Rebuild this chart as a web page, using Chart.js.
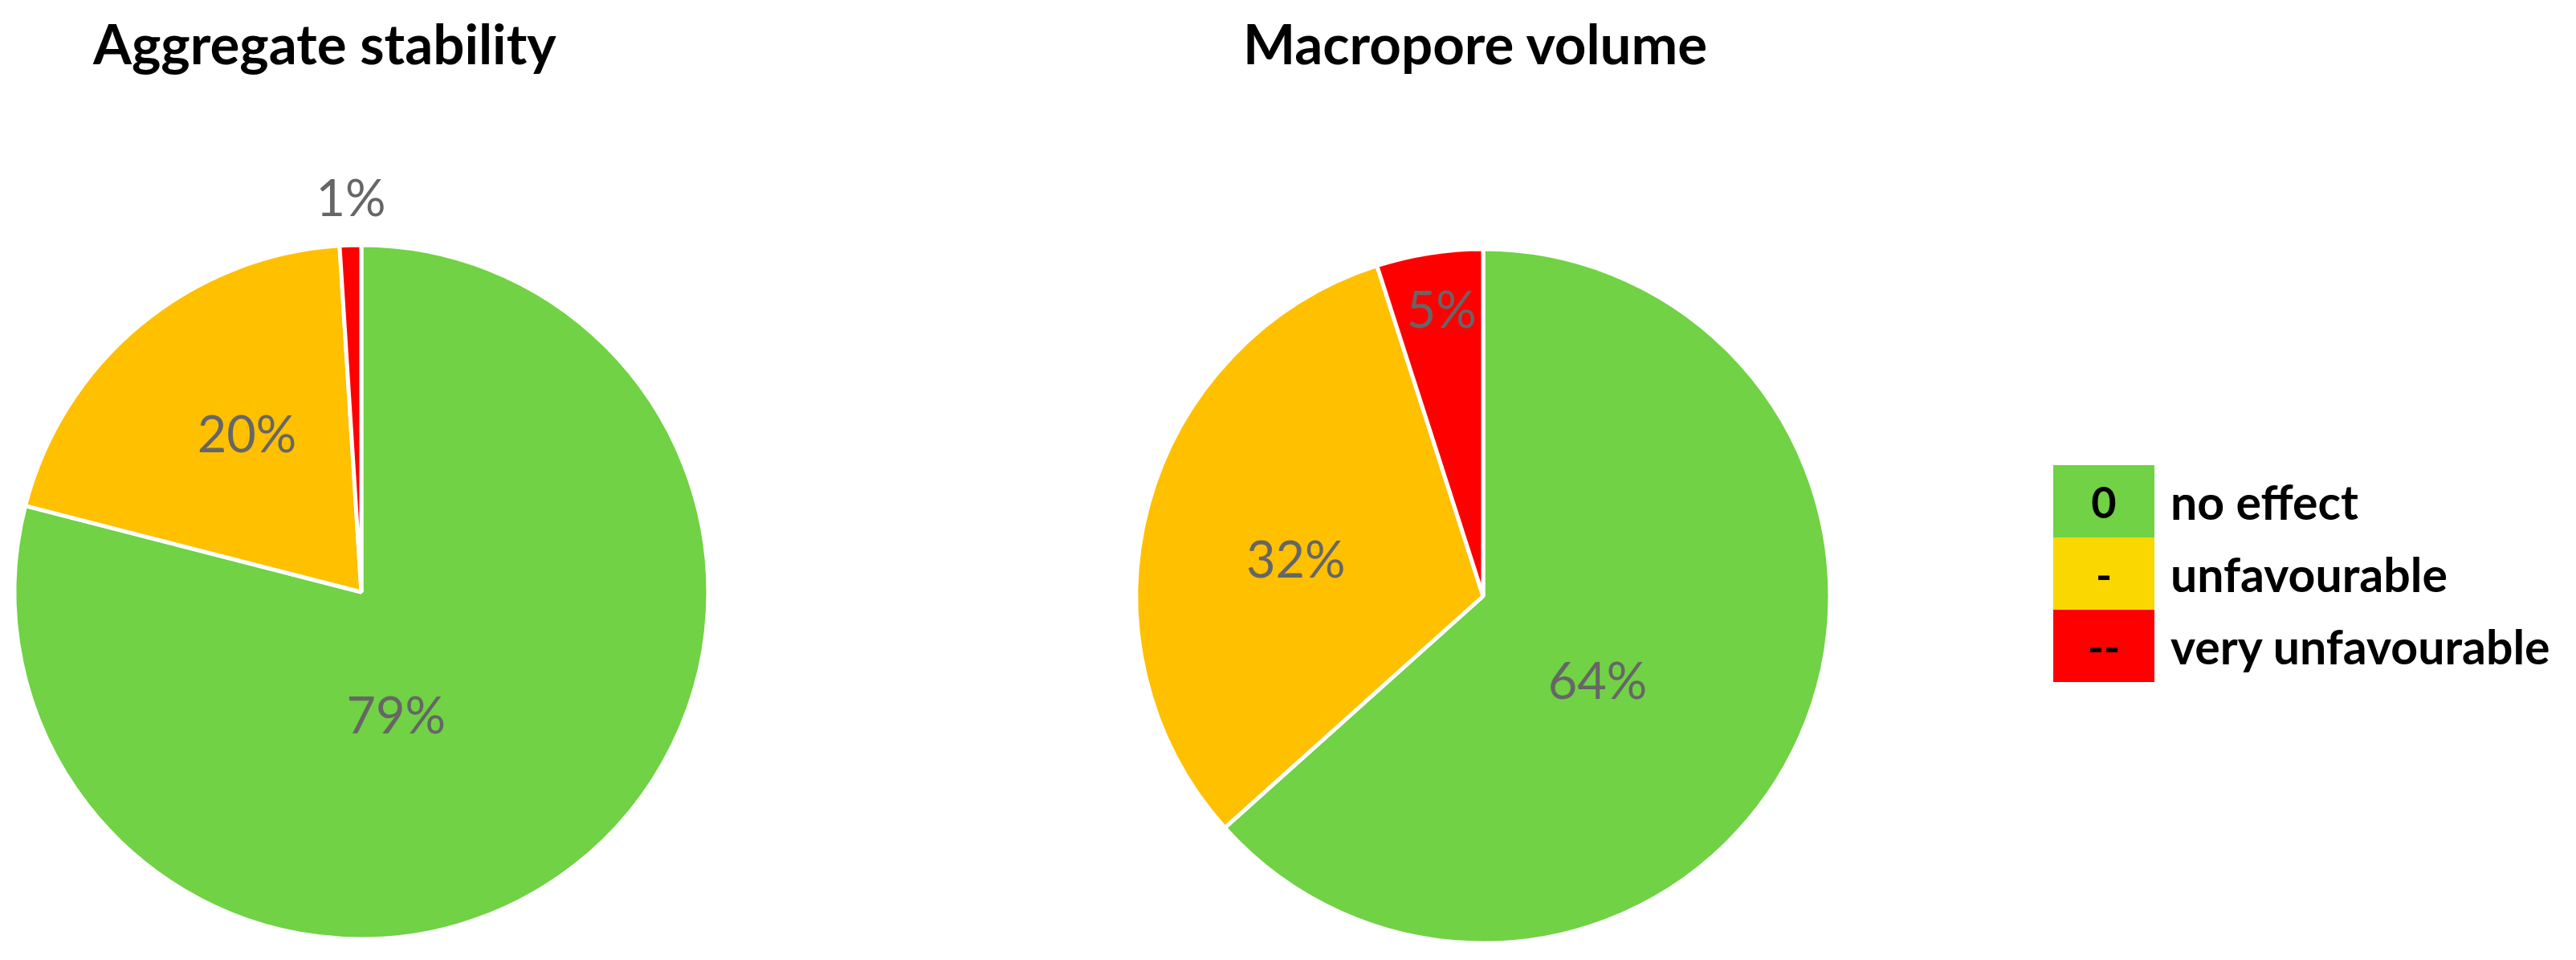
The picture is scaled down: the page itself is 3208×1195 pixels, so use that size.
<!DOCTYPE html>
<html lang="en">
<head>
  <meta charset="UTF-8">
  <title>Aggregate stability / Macropore volume</title>
  <script src="https://cdn.jsdelivr.net/npm/chart.js"></script>
  <style>
    html, body { margin: 0; padding: 0; background: #fff; overflow: hidden; }
    body { width: 3208px; height: 1195px; position: relative; font-family: Lato, "Open Sans", sans-serif; }
    .title { position: absolute; top: 12px; font-weight: bold; font-size: 69px; color: #000; white-space: nowrap; }
    canvas { position: absolute; }
    .legend { position: absolute; left: 2557px; top: 579px; }
    .row { display: flex; align-items: center; height: 90px; }
    .sw { width: 126px; height: 90px; display: flex; align-items: center; justify-content: center;
          font-weight: bold; font-size: 54px; color: #000; }
    .lab { margin-left: 20px; font-weight: bold; font-size: 59px; color: #000; white-space: nowrap; }
  </style>
</head>
<body>
  <div class="title" style="left:116px">Aggregate stability</div>
  <div class="title" style="left:1548px">Macropore volume</div>
  <canvas id="pieLeft"></canvas>
  <canvas id="pieRight"></canvas>
  <div class="legend" id="legend"></div>
  <script>
    // categories and values (percent)
    const categories = ['no effect', 'unfavourable', 'very unfavourable'];
    const symbols = ['0', '-', '--'];
    const aggregateStability = [79, 20, 1];
    const macroporeVolume = [64, 32, 5];

    const sliceColors = ['#70D244', '#FFC000', '#FF0000'];
    const legendColors = ['#70D244', '#FAD700', '#FF0000'];

    // label placement, in units of the pie radius from its centre
    const leftLabelPos = [[0.10, 0.36], [-0.33, -0.45], [-0.03, -1.13]];
    const rightLabelPos = [[0.33, 0.25], [-0.54, -0.10], [-0.12, -0.82]];

    const pctLabels = {
      id: 'pctLabels',
      afterDatasetsDraw(chart, args, opts) {
        const ctx = chart.ctx;
        const meta = chart.getDatasetMeta(0);
        const values = chart.data.datasets[0].data;
        ctx.save();
        ctx.font = '63px Lato, "Open Sans", sans-serif';
        ctx.fillStyle = '#666666';
        ctx.textAlign = 'center';
        ctx.textBaseline = 'middle';
        meta.data.forEach((arc, i) => {
          const p = arc.getProps(['x', 'y', 'outerRadius'], true);
          const off = opts.pos[i];
          ctx.fillText(values[i] + '%', p.x + off[0] * p.outerRadius, p.y + off[1] * p.outerRadius);
        });
        ctx.restore();
      }
    };

    function makePie(id, box, values, labelPos) {
      const cv = document.getElementById(id);
      cv.width = box.w; cv.height = box.h;
      cv.style.left = box.x + 'px'; cv.style.top = box.y + 'px';
      cv.style.width = box.w + 'px'; cv.style.height = box.h + 'px';
      return new Chart(cv, {
        type: 'pie',
        data: {
          labels: categories,
          datasets: [{
            data: values,
            backgroundColor: sliceColors,
            borderColor: '#ffffff',
            borderWidth: 5,
            radius: 432
          }]
        },
        options: {
          responsive: false,
          animation: false,
          layout: { padding: 0 },
          plugins: {
            legend: { display: false },
            tooltip: { enabled: false },
            pctLabels: { pos: labelPos }
          }
        },
        plugins: [pctLabels]
      });
    }

    // canvases centred on the pie centres
    makePie('pieLeft', { x: 0, y: 200, w: 900, h: 1074 }, aggregateStability, leftLabelPos);
    makePie('pieRight', { x: 1347, y: 200, w: 1000, h: 1084 }, macroporeVolume, rightLabelPos);

    const legend = document.getElementById('legend');
    categories.forEach((c, i) => {
      const row = document.createElement('div');
      row.className = 'row';
      row.innerHTML = '<div class="sw" style="background:' + legendColors[i] + '">' + symbols[i] +
        '</div><div class="lab">' + c + '</div>';
      legend.appendChild(row);
    });
  </script>
</body>
</html>
